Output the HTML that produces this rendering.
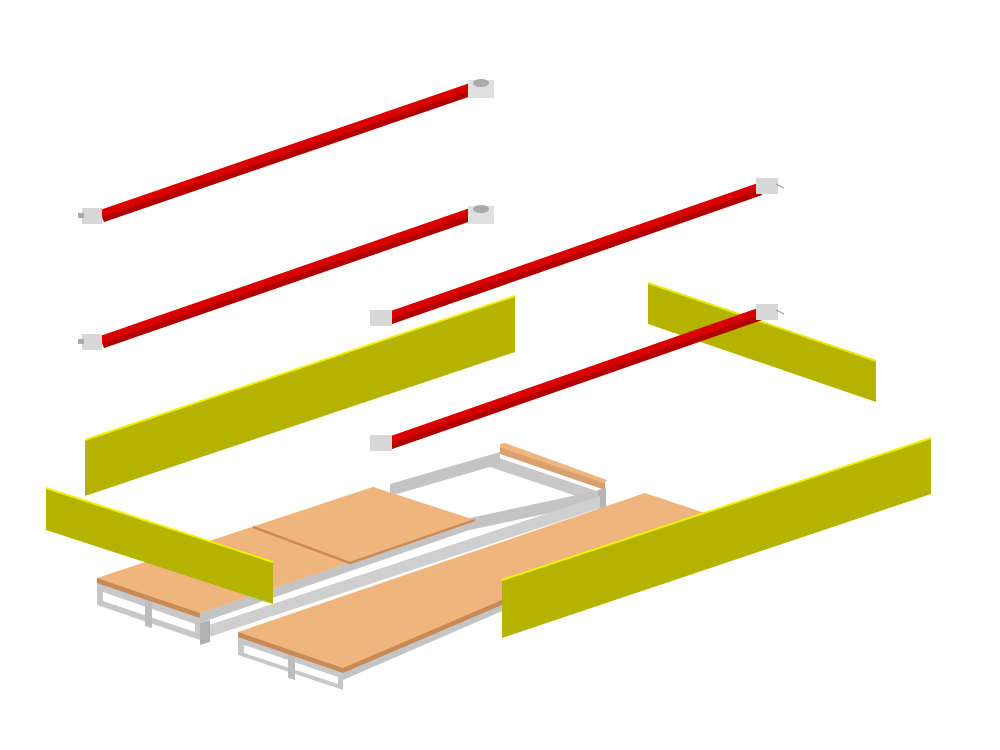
<!DOCTYPE html>
<html><head><style>html,body{margin:0;padding:0;background:#fff}svg{display:block}</style></head>
<body>
<svg width="1000" height="750" viewBox="0 0 1000 750" xmlns="http://www.w3.org/2000/svg">
<!-- back frame -->
<g>
<polygon points="490,455 600,492 600,504 490,467" fill="#c8c8c8"/>
<polygon points="500,447 605,483 605,490 500,454" fill="#d9a070"/>
<polygon points="500,444 505,443 607,480 605,483 500,447" fill="#efb57d"/>
<polygon points="390,484 500,452 500,464 390,496" fill="#c4c4c4"/>
<polygon points="470,518 600,490 600,502 470,530" fill="#c4c4c4"/>
<polygon points="598,490 606,488 606,508 598,510" fill="#b5b5b5"/>
<polygon points="200,628 600,496 600,508 200,640" fill="#cfcfcf"/>
</g>
<!-- left platform -->
<g>
<polygon points="97,578 200,613 200,640 97,605" fill="#c8c8c8"/>
<polygon points="103,592 195,624 195,632 103,601" fill="#fff"/>
<polygon points="145,600 152,602 152,628 145,626" fill="#bdbdbd"/>
<polygon points="200,613 475,520 475,528 200,623" fill="#c4c4c4"/>
<polygon points="200,623 210,620 210,642 200,645" fill="#b0b0b0"/>
<polygon points="97,578 373,487 475,520 200,613" fill="#efb57d"/>
<polygon points="97,578 200,613 200,618 97,583" fill="#c98a55"/>
<polygon points="253,527 373,487 475,520 350,563" fill="#efb57d"/>
<polyline points="253,527 350,563 475,520" fill="none" stroke="#c98a55" stroke-width="2.5"/>
</g>
<!-- right platform -->
<g>
<polygon points="238,632 343,668 343,690 238,655" fill="#c8c8c8"/>
<polygon points="244,645 338,677 338,684 244,653" fill="#fff"/>
<polygon points="288,654 295,656 295,680 288,678" fill="#bdbdbd"/>
<polygon points="343,668 705,513 705,523 343,680" fill="#c4c4c4"/>
<polygon points="238,632 645,493 705,513 343,668" fill="#efb57d"/>
<polygon points="238,632 343,668 343,673 238,637" fill="#c98a55"/>
<polygon points="343,668 705,513 705,518 343,673" fill="#c98a55"/>
</g>
<!-- yellow boards -->
<polygon points="85,440 515,296 515,352 85,496" fill="#b4b400"/>
<polyline points="85,440 515,296" stroke="#f0f000" stroke-width="2" fill="none"/>
<polygon points="648,283 876,361 876,402 648,324" fill="#b4b400"/>
<polyline points="648,283 876,361" stroke="#e8e800" stroke-width="2" fill="none"/>
<polygon points="46,488 273,562 273,604 46,530" fill="#b4b400"/>
<polyline points="46,488 273,562" stroke="#f0f000" stroke-width="2" fill="none"/>
<polygon points="502,580 931,438 931,494 502,638" fill="#b4b400"/>
<polyline points="502,580 931,438" stroke="#f0f000" stroke-width="2" fill="none"/>
<!-- red bars -->
<g>
<polygon points="100,210 470,83 474,95 104,222" fill="#d80000"/>
<polygon points="102,217 472,90 474,95 104,222" fill="#b00000"/>
<rect x="82" y="208" width="20" height="16" fill="#d8d8d8"/><rect x="78" y="213" width="6" height="5" fill="#aaa"/>
<rect x="468" y="80" width="26" height="18" fill="#e0e0e0"/><ellipse cx="481" cy="83" rx="8" ry="4" fill="#aaa"/>
<polygon points="100,336 470,208 474,220 104,348" fill="#d80000"/>
<polygon points="102,343 472,215 474,220 104,348" fill="#b00000"/>
<rect x="82" y="334" width="20" height="16" fill="#d8d8d8"/><rect x="78" y="339" width="6" height="5" fill="#aaa"/>
<rect x="468" y="206" width="26" height="18" fill="#e0e0e0"/><ellipse cx="481" cy="209" rx="8" ry="4" fill="#aaa"/>
<polygon points="388,312 758,183 762,195 392,324" fill="#d80000"/>
<polygon points="390,319 760,190 762,195 392,324" fill="#b00000"/>
<rect x="370" y="310" width="22" height="16" fill="#d8d8d8"/>
<rect x="756" y="178" width="22" height="16" fill="#d8d8d8"/><line x1="776" y1="184" x2="784" y2="188" stroke="#999"/>
<polygon points="388,437 758,308 762,320 392,449" fill="#d80000"/>
<polygon points="390,444 760,315 762,320 392,449" fill="#b00000"/>
<rect x="370" y="435" width="22" height="16" fill="#d8d8d8"/>
<rect x="756" y="304" width="22" height="16" fill="#d8d8d8"/><line x1="776" y1="310" x2="784" y2="314" stroke="#999"/>
</g>
</svg>
</body></html>
